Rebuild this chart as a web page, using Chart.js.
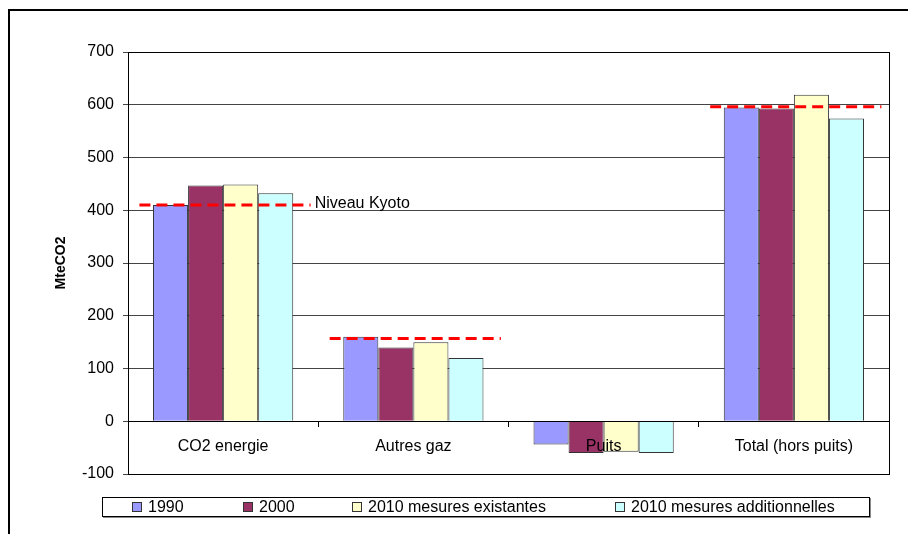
<!DOCTYPE html>
<html>
<head>
    <title>Emissions MteCO2</title>
    <script src="https://cdn.jsdelivr.net/npm/chart.js"></script>
    <style>
        body {
            margin: 0;
            overflow: hidden;
            font-family: "Liberation Sans", Arial, sans-serif;
        }
        .wrap {
            position: relative;
            width: 908px;
            height: 534px;
        }
        .frame {
            position: absolute;
            left: 8px;
            top: 9px;
            width: 1000px;
            height: 1000px;
            border: 2px solid #000;
        }
        canvas {
            position: absolute;
            left: 0;
            top: 0;
        }
        .legend {
            position: absolute;
            left: 102px;
            top: 497px;
            width: 768px;
            height: 20px;
            border: 1px solid #000;
            box-shadow: 1px 1px 0 #888;
            background: #fff;
            display: flex;
            align-items: center;
            padding-left: 29px;
            box-sizing: border-box;
            font-size: 16px;
        }
        .legend span.item {
            display: flex;
            align-items: center;
        }
        .legend span.sw {
            display: inline-block;
            width: 8px;
            height: 8px;
            border: 1px solid #333;
            margin-right: 6px;
        }
    </style>
</head>
<body>
<div class="wrap">
    <div class="frame"></div>
    <canvas id="chart" width="908" height="534"></canvas>
    <div class="legend" id="legend"></div>
</div>
<script>
    // data
    const categories = ['CO2 energie', 'Autres gaz', 'Puits', 'Total (hors puits)'];
    const seriesNames = ['1990', '2000', '2010 mesures existantes', '2010 mesures additionnelles'];
    const v1990 = [410, 160, -44, 595];
    const v2000 = [447, 140, -60, 593];
    const v2010Exist = [449, 150, -58, 619];
    const v2010Add = [432, 120, -60, 574];
    const kyoto = [410, 157, null, 596];
    const yTicks = [-100, 0, 100, 200, 300, 400, 500, 600, 700];

    const colors = ['#9999ff', '#993366', '#ffffcc', '#ccffff'];
    const seriesValues = [v1990, v2000, v2010Exist, v2010Add];
    const legendWidths = [111, 109, 263, 0];

    // Kyoto segment extent around each category centre (category units)
    const KYOTO_FROM = -0.44;
    const KYOTO_TO = 0.46;
    const FONT = '"Liberation Sans", Arial, sans-serif';

    const datasets = seriesValues.map((vals, i) => ({
        label: seriesNames[i],
        data: vals,
        backgroundColor: colors[i],
        borderColor: '#333',
        borderWidth: 1,
        categoryPercentage: 0.737,
        barPercentage: 1
    }));

    const kyotoPlugin = {
        id: 'kyoto',
        afterDatasetsDraw(chart) {
            const {ctx} = chart;
            const x = chart.scales.x;
            const y = chart.scales.y;
            const w = x.getPixelForValue(1) - x.getPixelForValue(0);
            ctx.save();
            ctx.strokeStyle = '#ff0000';
            ctx.lineWidth = 3;
            ctx.setLineDash([11, 6]);
            kyoto.forEach((v, i) => {
                if (v === null) return;
                const c = x.getPixelForValue(i);
                const py = y.getPixelForValue(v);
                ctx.beginPath();
                ctx.moveTo(c + KYOTO_FROM * w, py);
                ctx.lineTo(c + KYOTO_TO * w, py);
                ctx.stroke();
            });
            ctx.setLineDash([]);
            ctx.fillStyle = '#000';
            ctx.font = '16px ' + FONT;
            ctx.textBaseline = 'middle';
            ctx.fillText('Niveau Kyoto', x.getPixelForValue(0) + KYOTO_TO * w + 4, y.getPixelForValue(kyoto[0]) - 1);
            ctx.restore();
        },
        afterDraw(chart) {
            const {ctx, chartArea} = chart;
            ctx.save();
            ctx.strokeStyle = '#000';
            ctx.lineWidth = 1;
            ctx.strokeRect(Math.round(chartArea.left) + 0.5, Math.round(chartArea.top) + 0.5,
                Math.round(chartArea.right - chartArea.left), Math.round(chartArea.bottom - chartArea.top));
            ctx.restore();
        }
    };

    new Chart(document.getElementById('chart'), {
        type: 'bar',
        data: {labels: categories, datasets: datasets},
        options: {
            responsive: false,
            animation: false,
            layout: {padding: {top: 52, right: 19, bottom: 60, left: 0}},
            plugins: {
                legend: {display: false},
                tooltip: {enabled: false}
            },
            scales: {
                x: {
                    position: {y: 0},
                    grid: {
                        offset: true,
                        drawOnChartArea: false,
                        drawTicks: true,
                        tickLength: 5,
                        color: '#000'
                    },
                    border: {color: '#000', z: 1},
                    ticks: {
                        color: '#000',
                        padding: 11,
                        z: 1,
                        font: {family: FONT, size: 16}
                    }
                },
                y: {
                    min: -100,
                    max: 700,
                    afterBuildTicks(scale) {
                        scale.ticks = yTicks.map(v => ({value: v}));
                    },
                    afterFit(scale) {
                        scale.width = 128;
                    },
                    grid: {
                        color: '#444',
                        tickLength: 5
                    },
                    border: {color: '#000'},
                    ticks: {
                        color: '#000',
                        padding: 9,
                        font: {family: FONT, size: 16}
                    },
                    title: {
                        display: true,
                        text: 'MteCO2',
                        color: '#000',
                        padding: {top: 53, bottom: 0},
                        font: {family: FONT, size: 14, weight: 'bold'}
                    }
                }
            }
        },
        plugins: [kyotoPlugin]
    });

    // legend as text
    const legend = document.getElementById('legend');
    seriesNames.forEach((name, i) => {
        const item = document.createElement('span');
        item.className = 'item';
        if (legendWidths[i]) item.style.width = legendWidths[i] + 'px';
        const sw = document.createElement('span');
        sw.className = 'sw';
        sw.style.background = colors[i];
        item.appendChild(sw);
        item.appendChild(document.createTextNode(name));
        legend.appendChild(item);
    });
</script>
</body>
</html>
